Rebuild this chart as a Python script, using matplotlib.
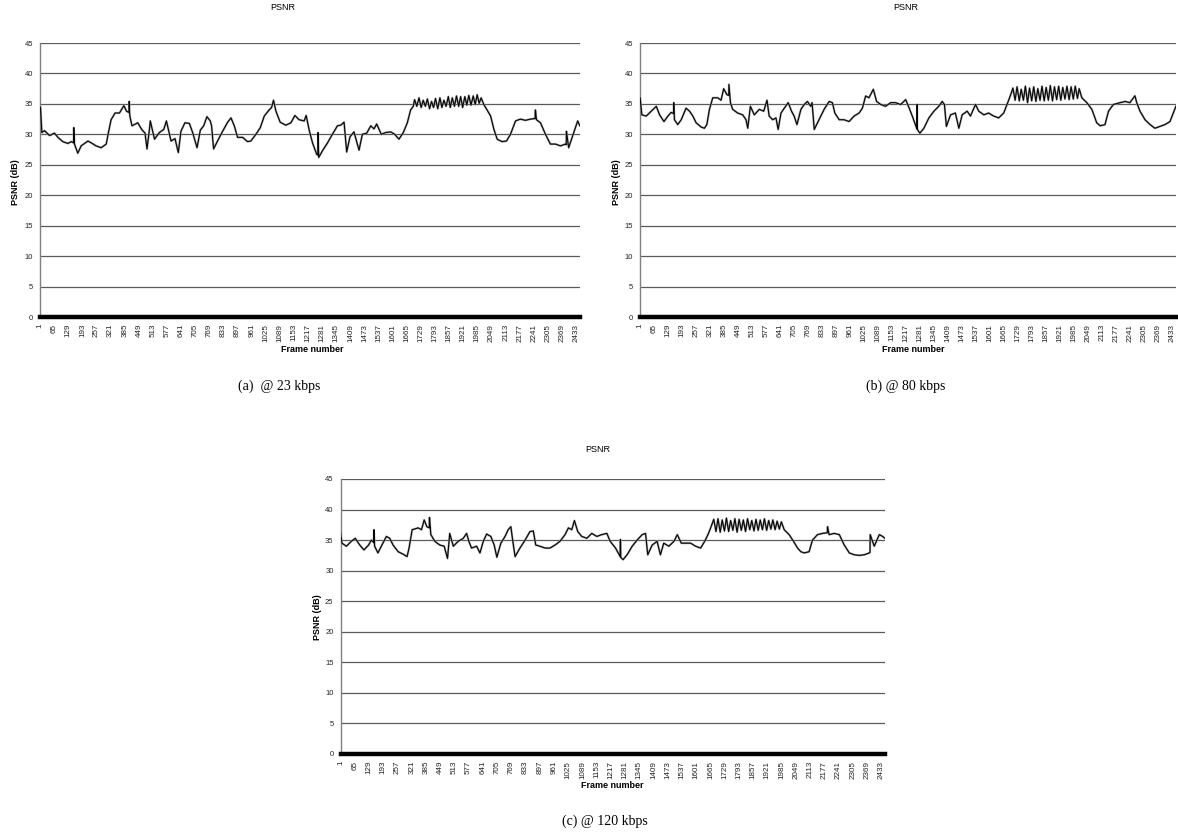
import matplotlib
matplotlib.use("Agg")
import matplotlib.pyplot as plt

# ---------------- data ----------------
N_FRAMES = 2450
tick_frames = list(range(1, 2434, 64))
y_ticks = [0, 5, 10, 15, 20, 25, 30, 35, 40, 45]

frames_a = [1, 3, 9, 21, 44, 66, 82, 104, 127, 142, 153, 154, 157, 172, 187, 218, 233, 255, 278, 301,
            311, 323, 341, 361, 381, 393, 404, 405, 408, 418, 444, 462, 477, 486, 497, 501, 520, 542,
            562, 574, 583, 595, 613, 628, 640, 658, 678, 693, 713, 728, 743, 758, 773, 779, 788, 806,
            829, 852, 867, 882, 897, 920, 942, 957, 980, 1000, 1018, 1040, 1051, 1060, 1071, 1090,
            1116, 1139, 1157, 1176, 1199, 1208, 1223, 1237, 1256, 1261, 1262, 1265, 1282, 1305, 1327,
            1350, 1365, 1380, 1392, 1407, 1425, 1448, 1463, 1483, 1501, 1516, 1528, 1549, 1569, 1592,
            1610, 1629, 1649, 1667, 1682, 1694,
            1700, 1710, 1720, 1730, 1739, 1749, 1758, 1768, 1777, 1786, 1795, 1805, 1815, 1824, 1833,
            1843, 1853, 1862, 1871, 1881, 1890, 1900, 1909, 1918, 1928, 1937, 1946, 1956, 1966, 1975,
            1984, 1993, 2002,
            2014, 2029, 2045, 2060, 2075, 2097, 2117, 2135, 2158, 2180, 2203, 2226, 2247, 2248, 2253,
            2271, 2294, 2316, 2339, 2362, 2384, 2388, 2389, 2399, 2422, 2440, 2450]
psnr_a = [34.5, 34.3, 30.3, 30.6, 29.8, 30.2, 29.5, 28.8, 28.5, 28.8, 28.6, 31.1, 28.4, 26.9, 28.1, 28.9,
          28.6, 28.1, 27.8, 28.4, 30.3, 32.4, 33.5, 33.5, 34.7, 33.8, 33.6, 35.4, 33.0, 31.4, 31.9, 30.8,
          30.2, 27.6, 30.8, 32.2, 29.2, 30.3, 30.8, 32.2, 30.8, 28.9, 29.3, 27.0, 30.5, 31.9, 31.8, 30.3,
          27.8, 30.7, 31.4, 32.9, 32.2, 31.4, 27.6, 28.9, 30.5, 32.0, 32.7, 31.4, 29.5, 29.5, 28.8, 28.9,
          30.0, 31.1, 33.0, 34.0, 34.4, 35.6, 33.8, 32.0, 31.5, 31.9, 33.1, 32.4, 32.2, 33.1, 30.5, 28.6,
          26.7, 26.6, 30.3, 26.2, 27.3, 28.6, 30.0, 31.4, 31.5, 32.0, 27.1, 29.6, 30.4, 27.4, 30.0, 30.2,
          31.4, 30.9, 31.7, 30.0, 30.3, 30.4, 30.0, 29.2, 30.3, 31.9, 34.0, 34.6,
          35.7, 34.6, 36.0, 34.4, 35.6, 34.6, 35.8, 34.2, 35.4, 34.4, 35.9, 34.2, 36.0, 34.4, 35.6,
          34.6, 36.2, 34.4, 36.0, 34.6, 36.3, 34.6, 36.2, 34.4, 36.2, 34.8, 36.4, 34.8, 36.3, 34.9,
          36.5, 35.1, 36.0,
          34.9, 34.0, 33.0, 30.8, 29.2, 28.8, 28.9, 30.0, 32.2, 32.5, 32.3, 32.5, 32.6, 34.0, 32.4,
          31.9, 30.0, 28.4, 28.4, 28.1, 28.4, 28.3, 30.5, 27.8, 30.3, 32.2, 31.4]

frames_b = [1, 9, 29, 52, 75, 90, 110, 128, 143, 154, 155, 158, 173, 189, 211, 227, 242, 257, 280, 295,
            306, 318, 333, 356, 371, 383, 398, 406, 407, 414, 424, 447, 470, 485, 493, 505, 523, 546,
            566, 581, 591, 607, 622, 632, 645, 660, 678, 693, 705, 718, 736, 751, 766, 781, 787, 797,
            819, 842, 865, 880, 891, 911, 933, 956, 979, 1002, 1017, 1032, 1047, 1067, 1082, 1101,
            1123, 1146, 1169, 1192, 1215, 1231, 1245, 1266, 1267, 1268, 1280, 1298, 1321, 1344, 1366,
            1382, 1392, 1401, 1420, 1442, 1458, 1473, 1496, 1511, 1534, 1549, 1572, 1594, 1617, 1640,
            1663, 1678, 1693,
            1705, 1715, 1724, 1734, 1743, 1753, 1762, 1772, 1781, 1791, 1800, 1810, 1819, 1829, 1838,
            1848, 1857, 1867, 1876, 1886, 1895, 1905, 1914, 1924, 1933, 1943, 1952, 1962, 1971, 1981,
            1990, 2000, 2008,
            2020, 2043, 2066, 2088, 2104, 2126, 2142, 2164, 2195, 2218, 2240, 2262, 2263, 2271, 2286,
            2309, 2332, 2354, 2377, 2400, 2423, 2438, 2450]
psnr_b = [36.0, 33.2, 33.0, 33.8, 34.6, 33.2, 32.1, 33.0, 33.6, 33.4, 35.2, 32.4, 31.6, 32.4, 34.3, 33.8,
          33.0, 31.9, 31.2, 31.0, 31.6, 34.1, 36.0, 36.0, 35.6, 37.5, 36.5, 36.4, 38.2, 35.2, 34.1, 33.5,
          33.2, 32.4, 31.0, 34.6, 33.2, 34.1, 33.8, 35.6, 33.0, 32.4, 32.7, 30.8, 33.5, 34.3, 35.2, 33.8,
          33.0, 31.6, 34.1, 34.9, 35.4, 34.6, 35.2, 30.8, 32.4, 34.1, 35.4, 35.2, 33.5, 32.4, 32.4, 32.1,
          33.0, 33.5, 34.3, 36.3, 36.0, 37.4, 35.4, 34.9, 34.6, 35.2, 35.2, 34.9, 35.7, 34.3, 33.0, 30.9,
          34.9, 30.8, 30.2, 31.0, 32.7, 33.8, 34.6, 35.4, 34.9, 31.3, 33.2, 33.5, 31.0, 33.2, 33.8, 33.0,
          34.9, 33.8, 33.2, 33.5, 33.0, 32.7, 33.5, 34.9, 36.3,
          37.6, 35.6, 37.8, 35.5, 37.4, 35.6, 37.9, 35.2, 37.6, 35.5, 37.8, 35.4, 37.5, 35.6, 37.9,
          35.5, 37.7, 35.6, 38.0, 35.5, 37.8, 35.7, 37.9, 35.6, 37.7, 35.8, 37.9, 35.7, 37.8, 35.8,
          37.9, 35.9, 37.5,
          36.0, 35.2, 34.1, 31.9, 31.4, 31.6, 33.8, 34.9, 35.2, 35.4, 35.2, 36.3, 36.3, 35.2, 33.8,
          32.4, 31.6, 31.0, 31.3, 31.6, 32.1, 33.5, 34.6]

frames_c = [1, 2, 7, 27, 49, 67, 87, 106, 127, 139, 150, 151, 154, 169, 184, 207, 222, 237, 260, 282,
            300, 309, 323, 350, 365, 377, 389, 400, 401, 407, 425, 447, 467, 482, 492, 508, 530, 553,
            568, 578, 590, 613, 628, 643, 658, 677, 692, 704, 722, 741, 755, 767, 774, 786, 808, 831,
            853, 868, 879, 898, 921, 943, 966, 988, 1011, 1026, 1041, 1053, 1068, 1086, 1109, 1131,
            1154, 1176, 1199, 1214, 1238, 1259, 1260, 1261, 1272, 1290, 1313, 1335, 1358, 1373, 1383,
            1403, 1425, 1440, 1455, 1478, 1501, 1516, 1534, 1553, 1576, 1598, 1621, 1639, 1654, 1666,
            1680, 1690, 1699, 1709, 1718, 1728, 1737, 1747, 1756, 1766, 1775, 1785, 1794, 1804, 1813,
            1823, 1832, 1842, 1851, 1861, 1870, 1880, 1889, 1899, 1908, 1918, 1927, 1937, 1946, 1956,
            1965, 1975, 1984,
            1997, 2019, 2039, 2057, 2072, 2087, 2109, 2124, 2147, 2169, 2191, 2192, 2199, 2222, 2245,
            2267, 2290, 2312, 2335, 2357, 2380, 2383, 2384, 2402, 2425, 2440, 2450]
psnr_c = [36.3, 35.8, 34.5, 34.0, 34.8, 35.3, 34.2, 33.4, 34.2, 35.0, 34.6, 36.7, 34.0, 32.9, 34.0, 35.6,
          35.3, 34.2, 33.1, 32.7, 32.3, 33.7, 36.7, 37.0, 36.7, 38.3, 37.2, 37.0, 38.7, 35.9, 34.8, 34.2,
          34.0, 32.0, 36.1, 34.0, 34.8, 35.3, 36.1, 34.8, 33.7, 34.0, 32.9, 34.8, 36.0, 35.6, 34.2, 32.2,
          34.5, 35.6, 36.7, 37.2, 35.3, 32.3, 33.7, 35.0, 36.4, 36.5, 34.2, 34.0, 33.7, 33.7, 34.2, 34.8,
          35.9, 37.0, 36.7, 38.2, 36.4, 35.6, 35.3, 36.1, 35.6, 35.9, 36.1, 34.8, 33.7, 32.3, 35.1, 32.2,
          31.8, 32.6, 34.0, 35.0, 35.9, 36.1, 32.6, 34.2, 34.8, 32.6, 34.5, 34.0, 34.8, 35.9, 34.5, 34.5,
          34.5, 34.0, 33.7, 34.8, 35.9, 37.0,
          38.4, 36.4, 38.5, 36.3, 38.3, 36.5, 38.6, 36.4, 38.2, 36.6, 38.5, 36.3, 38.4, 36.6, 38.3,
          36.4, 38.5, 36.7, 38.2, 36.5, 38.4, 36.6, 38.3, 36.7, 38.5, 36.6, 38.2, 36.8, 38.3, 36.7,
          38.1, 36.8, 38.0,
          36.7, 35.9, 34.8, 33.7, 33.1, 32.9, 33.1, 35.0, 35.9, 36.1, 36.2, 37.2, 35.9, 36.1, 35.9,
          34.2, 32.9, 32.6, 32.5, 32.6, 32.9, 33.0, 35.9, 34.0, 35.9, 35.6, 35.3]

captions = ["(a)  @ 23 kbps", "(b) @ 80 kbps", "(c) @ 120 kbps"]
chart_title = "PSNR"
x_label = "Frame number"
y_label = "PSNR (dB)"

# ---------------- drawing ----------------
W, H = 1178, 836
fig = plt.figure(figsize=(W / 100, H / 100), dpi=100)
SANS = "Liberation Sans"
SERIF = "Liberation Serif"


def px_rect(l, t, r, b):
    return [l / W, 1 - b / H, (r - l) / W, (b - t) / H]


def draw_panel(rect, frames, vals, title_xy, xlabel_xy, ylabel_xy, caption_xy, caption):
    ax = fig.add_axes(px_rect(*rect))
    for yv in y_ticks[1:]:
        ax.axhline(yv, color="#5a5a5a", lw=0.9, zorder=1)
    ax.plot(frames, vals, color="#9a9a9a", lw=1.5, zorder=2)
    ax.plot(frames, vals, color="black", lw=0.75, zorder=3)
    ax.set_xlim(0.5, N_FRAMES + 0.5)
    ax.set_ylim(0, 45)
    ax.set_yticks(y_ticks)
    ax.set_yticklabels([str(v) for v in y_ticks], fontsize=5.5, family=SANS, color="#222222")
    ax.set_xticks(tick_frames)
    ax.set_xticklabels([str(v) for v in tick_frames], rotation=90, fontsize=5.8,
                       family=SANS, color="#222222")
    ax.tick_params(axis="y", length=0, pad=5)
    ax.tick_params(axis="x", length=0, pad=5)
    for s in ("top", "right"):
        ax.spines[s].set_visible(False)
    ax.spines["left"].set_color("#808080")
    ax.spines["left"].set_linewidth(1.0)
    ax.spines["bottom"].set_color("black")
    ax.spines["bottom"].set_linewidth(3.2)
    ax.spines["bottom"].set_zorder(4)
    ax.set_facecolor("white")
    fig.text(title_xy[0] / W, 1 - title_xy[1] / H, chart_title, ha="center", va="center",
             fontsize=6.5, family=SANS)
    fig.text(xlabel_xy[0] / W, 1 - xlabel_xy[1] / H, x_label, ha="center", va="center",
             fontsize=6.5, family=SANS, fontweight="bold")
    fig.text(ylabel_xy[0] / W, 1 - ylabel_xy[1] / H, y_label, ha="center", va="center",
             fontsize=6.5, family=SANS, fontweight="bold", rotation=90)
    fig.text(caption_xy[0] / W, 1 - caption_xy[1] / H, caption, ha="center", va="center",
             fontsize=10, family=SERIF)
    return ax


draw_panel((40, 43, 580, 317), frames_a, psnr_a, (283, 7), (312, 349), (16, 182), (279, 386), captions[0])
draw_panel((640, 43, 1176, 317), frames_b, psnr_b, (906, 7), (913, 349), (616, 182), (906, 386), captions[1])
draw_panel((340.5, 479, 885, 754), frames_c, psnr_c, (598, 450), (612, 786), (317, 617), (605, 821), captions[2])

fig.savefig("out.png", dpi=100, facecolor="white")
